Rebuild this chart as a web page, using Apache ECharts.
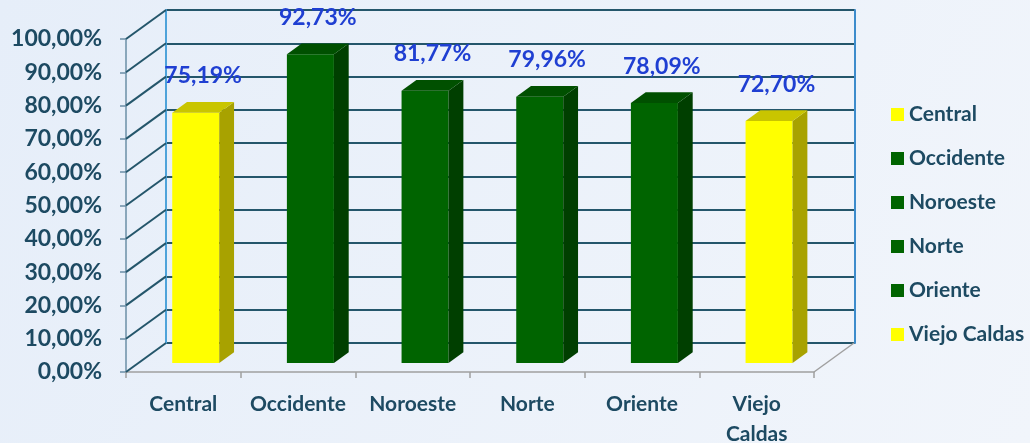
<!DOCTYPE html>
<html>
<head>
<meta charset="utf-8">
<script src="https://cdn.jsdelivr.net/npm/echarts@6/dist/echarts.min.js"></script>
<style>
html,body{margin:0;padding:0;}
#main{width:1030px;height:443px;}
</style>
</head>
<body>
<div id="main"></div>
<script>
let categories = ['Central', 'Occidente', 'Noroeste', 'Norte', 'Oriente', 'Viejo Caldas'];
let values = [75.19, 92.73, 81.77, 79.96, 78.09, 72.70];
let yTicks = [0, 10, 20, 30, 40, 50, 60, 70, 80, 90, 100];

// colores de las barras (amarillo / verde)
let yellow = {face: '#ffff00', side: '#a8a200', top: '#c9c500'};
let green = {face: '#006400', side: '#003f00', top: '#005000'};
let palette = [yellow, green, green, green, green, yellow];

let FONT = 'Lato';
let TEXT_COLOR = '#1d4a62';
let WALL_LINE = '#24566b';
// profundidad del "3D"
let DX = 40, DY = -29;

function pct(v){
    return v.toFixed(2).replace('.', ',') + '%';
}

function renderBar(params, api){
    let i = api.value(0), v = api.value(1);
    let base = api.coord([i, 0]);
    let top = api.coord([i, v]);
    let band = api.size([1, 0])[0];
    let w = band * 0.41;
    let ox = DX * 0.31, oy = DY * 0.31;   // cara frontal de la barra
    let sx = DX * 0.37, sy = DY * 0.37;   // fondo de la barra
    let x0 = base[0] + ox - w / 2, x1 = x0 + w;
    let yb = base[1] + oy, yt = top[1] + oy;
    let c = palette[i];
    return {
        type: 'group',
        children: [
            {type: 'rect', shape: {x: x0, y: yt, width: w, height: yb - yt}, style: {fill: c.face}},
            {type: 'polygon', shape: {points: [[x1, yt], [x1 + sx, yt + sy], [x1 + sx, yb + sy], [x1, yb]]}, style: {fill: c.side}},
            {type: 'polygon', shape: {points: [[x0, yt], [x0 + sx, yt + sy], [x1 + sx, yt + sy], [x1, yt]]}, style: {fill: c.top}},
            {type: 'text', style: {
                x: (x0 + x1) / 2 + sx / 2, y: yt + sy - 26,
                text: pct(v), align: 'center', verticalAlign: 'middle',
                fill: '#1f3fd2', font: 'bold 23px ' + FONT
            }}
        ]
    };
}

function renderDiagonal(params, api){
    let cs = params.coordSys;
    let y = api.coord([0, api.value(1)])[1];
    let children = [{
        type: 'line',
        shape: {x1: cs.x, y1: y, x2: cs.x + DX, y2: y + DY},
        style: {stroke: WALL_LINE, lineWidth: 2}
    }];
    if (api.value(1) === 0) {
        children.push({
            type: 'line',
            shape: {x1: cs.x + cs.width, y1: y, x2: cs.x + cs.width + DX, y2: y + DY},
            style: {stroke: '#a0a0a0', lineWidth: 1.5}
        });
    }
    return {type: 'group', children: children};
}

let series = categories.map(function(name, i){
    return {
        type: 'custom',
        name: name,
        xAxisIndex: 0,
        yAxisIndex: 0,
        z: 5,
        itemStyle: {color: palette[i].face},
        renderItem: renderBar,
        data: [[i, values[i]]]
    };
});
series.push({
    type: 'custom',
    name: 'diag',
    xAxisIndex: 0,
    yAxisIndex: 0,
    z: 3,
    renderItem: renderDiagonal,
    encode: {x: 0, y: 1},
    data: yTicks.map(function(t){ return [0, t]; })
});

let chart = echarts.init(document.getElementById('main'));
chart.setOption({
    animation: false,
    backgroundColor: new echarts.graphic.LinearGradient(0, 0, 1, 1, [
        {offset: 0, color: '#e6eef9'},
        {offset: 1, color: '#f1f5fb'}
    ]),
    legend: {
        data: categories,
        orient: 'vertical',
        left: 886,
        top: 99,
        icon: 'rect',
        itemWidth: 13,
        itemHeight: 13,
        itemGap: 23,
        itemTextGap: 6,
        textStyle: {fontFamily: FONT, fontSize: 21, fontWeight: 'bold', color: TEXT_COLOR}
    },
    grid: [
        {left: 126, top: 39, width: 688, height: 333, outerBoundsMode: 'none', containLabel: false},
        {left: 166, top: 10, width: 689, height: 333, outerBoundsMode: 'none', containLabel: false}
    ],
    xAxis: [
        {
            gridIndex: 0,
            type: 'category',
            data: categories,
            axisLine: {lineStyle: {color: '#a0a0a0', width: 1.5}},
            axisTick: {show: true, length: 6, lineStyle: {color: '#a0a0a0', width: 1.5}},
            axisLabel: {
                interval: 0,
                margin: 17,
                fontFamily: FONT, fontSize: 21, fontWeight: 'bold', color: TEXT_COLOR,
                lineHeight: 30,
                formatter: function(v){ return v.replace(' ', '\n'); }
            }
        },
        {gridIndex: 1, type: 'category', data: categories, show: false}
    ],
    yAxis: [
        {
            gridIndex: 0,
            type: 'value',
            min: 0, max: 100, interval: 10,
            axisLine: {show: true, lineStyle: {color: '#6b8fa6', width: 1.5}},
            axisTick: {show: true, length: 6, lineStyle: {color: '#6b8fa6', width: 1.5}},
            splitLine: {show: false},
            axisLabel: {
                margin: 24,
                fontFamily: FONT, fontSize: 23, fontWeight: 'bold', color: TEXT_COLOR,
                formatter: pct
            }
        },
        {
            gridIndex: 1,
            type: 'value',
            min: 0, max: 100, interval: 10,
            axisLine: {show: true, lineStyle: {color: '#4ea3da', width: 2}},
            axisTick: {show: false},
            axisLabel: {show: false},
            splitLine: {show: true, lineStyle: {color: WALL_LINE, width: 2}}
        },
        {
            gridIndex: 1,
            type: 'value',
            position: 'right',
            min: 0, max: 100, interval: 10,
            axisLine: {show: true, lineStyle: {color: '#3d8ccc', width: 2}},
            axisTick: {show: false},
            axisLabel: {show: false},
            splitLine: {show: false}
        }
    ],
    series: series
});
</script>
</body>
</html>
